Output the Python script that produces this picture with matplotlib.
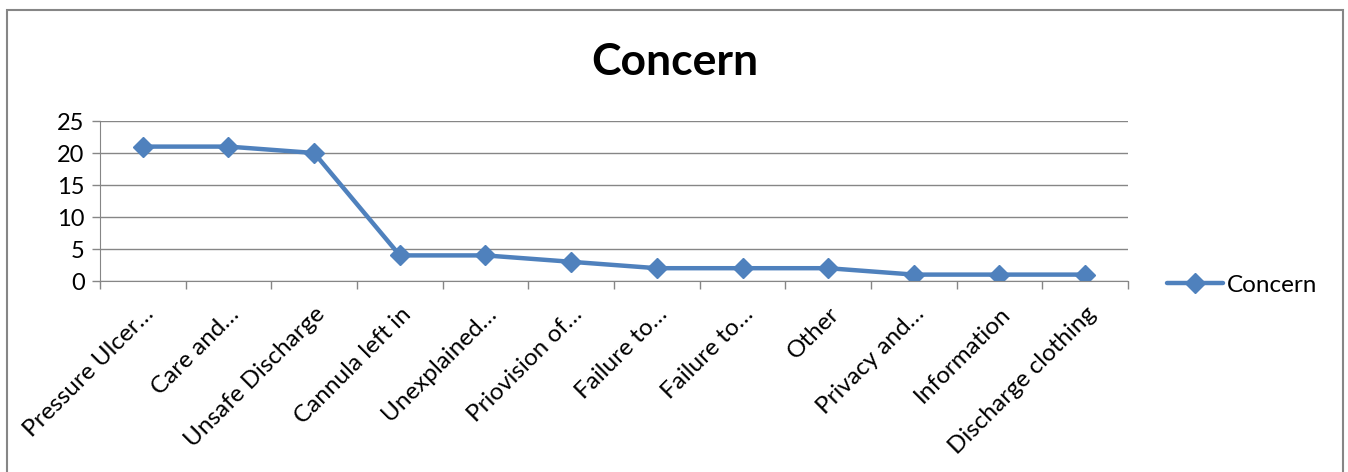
import matplotlib.pyplot as plt
from matplotlib.lines import Line2D
from matplotlib.patches import Rectangle
import numpy as np

plt.rcParams['font.family'] = ['Lato', 'DejaVu Sans']

categories = ['Pressure Ulcer…', 'Care and…', 'Unsafe Discharge', 'Cannula left in',
              'Unexplained…', 'Priovision of…', 'Failure to…', 'Failure to…',
              'Other', 'Privacy and…', 'Information', 'Discharge clothing']
concern = [21, 21, 20, 4, 4, 3, 2, 2, 2, 1, 1, 1]

blue = '#4F81BD'
grey = '#868686'

fig = plt.figure(figsize=(13.48, 4.72), dpi=100)
ax = fig.add_axes([100 / 1348, 1 - 281 / 472, 1028 / 1348, 160 / 472])

x = np.arange(len(categories))
ax.plot(x, concern, color=blue, lw=3.2, marker='D', ms=10.5,
        markerfacecolor=blue, markeredgecolor=blue, solid_capstyle='round',
        label='Concern')

ax.set_xlim(-0.5, len(categories) - 0.5)
ax.set_ylim(0, 25)
ax.set_yticks(range(0, 26, 5))
ax.yaxis.grid(True, color=grey, lw=1)
ax.set_axisbelow(True)

# category ticks sit on the boundaries, labels on the centres
ax.set_xticks(np.arange(-0.5, len(categories)), minor=False)
ax.set_xticklabels([])
ax.set_xticks(x, minor=True)
ax.set_xticklabels(categories, minor=True, rotation=45, ha='right',
                   va='top', rotation_mode='anchor', fontsize=17.5)
ax.tick_params(axis='x', which='major', length=6, color=grey, width=1)
ax.tick_params(axis='x', which='minor', length=0, pad=16)
ax.tick_params(axis='y', length=6, color=grey, width=1, labelsize=17, pad=5)

for s in ['top', 'right']:
    ax.spines[s].set_visible(False)
for s in ['left', 'bottom']:
    ax.spines[s].set_color(grey)

fig.text(675 / 1348, 1 - 62 / 472, 'Concern', ha='center', va='center',
         fontsize=32, fontweight='bold')

handle = Line2D([], [], color=blue, lw=3.2, marker='D', ms=10.5,
                solid_capstyle='round')
fig.legend([handle], ['Concern'], loc='center left',
           bbox_to_anchor=(1167 / 1348, 1 - 285 / 472), frameon=False,
           fontsize=17.5, handlelength=2.3, handletextpad=0.15,
           borderaxespad=0, borderpad=0)

fig.patches.append(Rectangle((7 / 1348, -0.05), 1336 / 1348, 1.05 - 10 / 472,
                             transform=fig.transFigure, fill=False,
                             edgecolor=grey, lw=1.5))

fig.savefig('out.png', dpi=100)
